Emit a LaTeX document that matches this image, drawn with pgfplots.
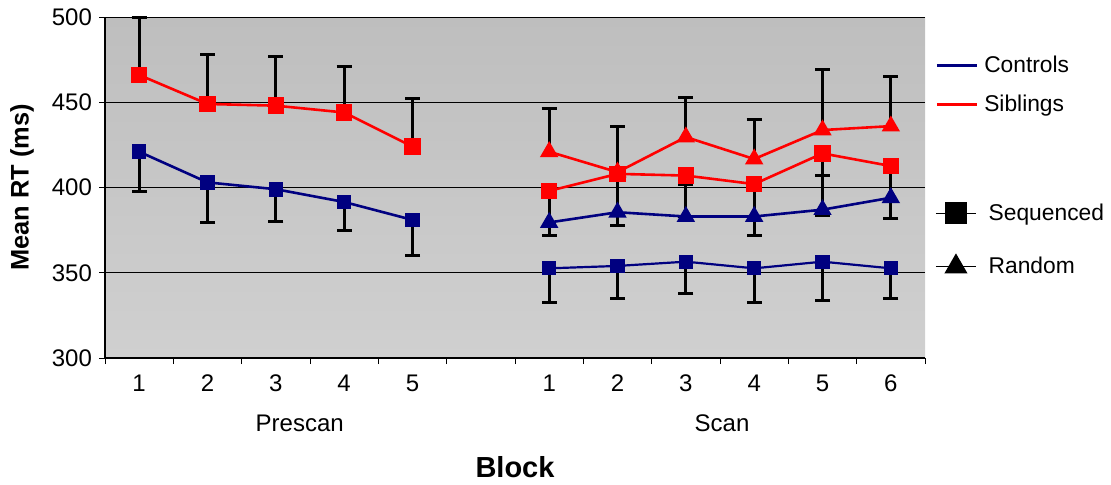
\documentclass[border=0pt]{standalone}
\usepackage{pgfplots}
\pgfplotsset{compat=1.18}
\usepackage{fontspec}
\setmainfont{Liberation Sans}
\definecolor{navy}{RGB}{0,0,128}
\definecolor{bgtop}{RGB}{190,190,190}
\definecolor{bgbot}{RGB}{208,208,208}
\pgfplotsset{
  ebar/.style={forget plot, only marks, mark=none,
    error bars/.cd, y dir=#1, y explicit,
    error bar style={black, line width=1.5pt, solid},
    error mark options={rotate=90, black, line width=1.5pt, mark size=3.75pt}},
}
\begin{document}
\begin{tikzpicture}
\path[use as bounding box] (-52.5pt,-63pt) rectangle (503pt,179pt);
\begin{axis}[
  name=main,
  at={(0,0)}, anchor=south west,
  scale only axis, width=410pt, height=170.5pt,
  xmin=0.5, xmax=12.5, ymin=300, ymax=500,
  axis x line*=bottom, axis y line*=left,
  axis line style={-, black, line width=0.7pt},
  axis background/.style={top color=bgtop, bottom color=bgbot},
  clip=false,
  ytick={300,350,400,450,500},
  ymajorgrids, grid style={black, line width=0.5pt},
  xtick={0.5,1.5,...,12.5}, xticklabels={},
  extra x ticks={1,2,3,4,5,7,8,9,10,11,12},
  extra x tick labels={1,2,3,4,5,1,2,3,4,5,6},
  extra x tick style={major tick length=0pt, grid=none},
  tick align=outside, major tick length=3pt,
  tick style={black, line width=0.5pt},
  /pgf/number format/assume math mode=true,
  ticklabel style={font=\fontsize{12}{14}\selectfont},
  xticklabel style={yshift=-5pt},
  ylabel={Mean RT (ms)},
  ylabel style={font=\bfseries\fontsize{12.7}{15}\selectfont, at={(axis description cs:-0.101,0.5)}, anchor=center},
  xlabel={Block},
  xlabel style={font=\bfseries\fontsize{14.5}{17}\selectfont, at={(axis description cs:0.5,-0.32)}, anchor=center},
  legend image code/.code={\draw[mark repeat=2,mark phase=2,#1] plot coordinates {(0pt,0pt) (10pt,0pt) (20pt,0pt)};},
  legend style={draw=none, fill=none, at={(axis description cs:1.012,0.90)}, anchor=north west,
    font=\fontsize{11.4}{13.5}\selectfont, row sep=6pt, inner sep=0pt,
    nodes={inner xsep=3pt}},
  legend cell align=left,
]
% error bars first
\addplot[ebar=minus] coordinates {(1,421) +- (0,23.5) (2,403) +- (0,23.3) (3,399) +- (0,19) (4,391.5) +- (0,17) (5,381) +- (0,21)};
\addplot[ebar=plus] coordinates {(1,466) +- (0,34) (2,449) +- (0,29) (3,448) +- (0,29) (4,444) +- (0,27) (5,424) +- (0,28)};
\addplot[ebar=minus] coordinates {(7,352.6) +- (0,19.9) (8,354) +- (0,19) (9,356.5) +- (0,18.5) (10,352.6) +- (0,19.9) (11,356.5) +- (0,22.5) (12,352.6) +- (0,17.6)};
\addplot[ebar=plus] coordinates {(7,379.5) +- (0,15.5) (8,385.5) +- (0,20.5) (9,383) +- (0,18.5) (10,383) +- (0,19) (11,387) +- (0,20) (12,394) +- (0,19)};
\addplot[ebar=minus] coordinates {(7,398) +- (0,26) (8,408) +- (0,30) (9,407) +- (0,24) (10,402) +- (0,30) (11,420) +- (0,36.5) (12,412.6) +- (0,30.6)};
\addplot[ebar=plus] coordinates {(7,421) +- (0,25.6) (8,409) +- (0,27) (9,429.6) +- (0,23.4) (10,416.7) +- (0,23.3) (11,433.7) +- (0,35.3) (12,436) +- (0,29)};
% lines and markers
\addplot[forget plot, navy, line width=1.3pt, mark=square*, mark size=3pt, mark options={solid, fill=navy}] coordinates {(1,421) (2,403) (3,399) (4,391.5) (5,381)};
\addplot[forget plot, red, line width=1.3pt, mark=square*, mark size=3.5pt, mark options={solid, fill=red}] coordinates {(1,466) (2,449) (3,448) (4,444) (5,424)};
\addplot[forget plot, navy, line width=1.1pt, mark=square*, mark size=3pt, mark options={solid, fill=navy}] coordinates {(7,352.6) (8,354) (9,356.5) (10,352.6) (11,356.5) (12,352.6)};
\addplot[forget plot, navy, line width=1.3pt, mark=triangle*, mark size=4pt, mark options={solid, fill=navy}] coordinates {(7,379.5) (8,385.5) (9,383) (10,383) (11,387) (12,394)};
\addplot[forget plot, red, line width=1.3pt, mark=triangle*, mark size=4pt, mark options={solid, fill=red}] coordinates {(7,421) (8,409) (9,429.6) (10,416.7) (11,433.7) (12,436)};
\addplot[forget plot, red, line width=1.3pt, mark=square*, mark size=3.5pt, mark options={solid, fill=red}] coordinates {(7,398) (8,408) (9,407) (10,402) (11,420) (12,412.6)};
\addlegendimage{navy, line width=1.5pt}
\addlegendentry{Controls}
\addlegendimage{red, line width=1.5pt}
\addlegendentry{Siblings}
\node[font=\fontsize{12}{14}\selectfont] at (axis description cs:0.2375,-0.1906) {Prescan};
\node[font=\fontsize{12}{14}\selectfont] at (axis description cs:0.7525,-0.1906) {Scan};
\end{axis}
\begin{axis}[
  at={(0,0)}, anchor=south west,
  scale only axis, width=410pt, height=170.5pt,
  hide axis, xmin=0, xmax=1, ymin=0, ymax=1,
  legend image code/.code={\draw[mark repeat=2,mark phase=2,#1] plot coordinates {(0pt,0pt) (10pt,0pt) (20pt,0pt)};},
  legend style={draw=none, fill=none, at={(axis description cs:1.012,0.466)}, anchor=north west,
    font=\fontsize{11.4}{13.5}\selectfont, row sep=13pt, inner sep=0pt,
    nodes={inner xsep=6pt}},
  legend cell align=left,
]
\addlegendimage{black, line width=0.7pt, mark=square*, mark size=5.25pt, mark options={solid, fill=black}}
\addlegendentry{Sequenced}
\addlegendimage{black, line width=0.7pt, mark=triangle*, mark size=6pt, mark options={solid, fill=black}}
\addlegendentry{Random}
\end{axis}
\end{tikzpicture}
\end{document}
